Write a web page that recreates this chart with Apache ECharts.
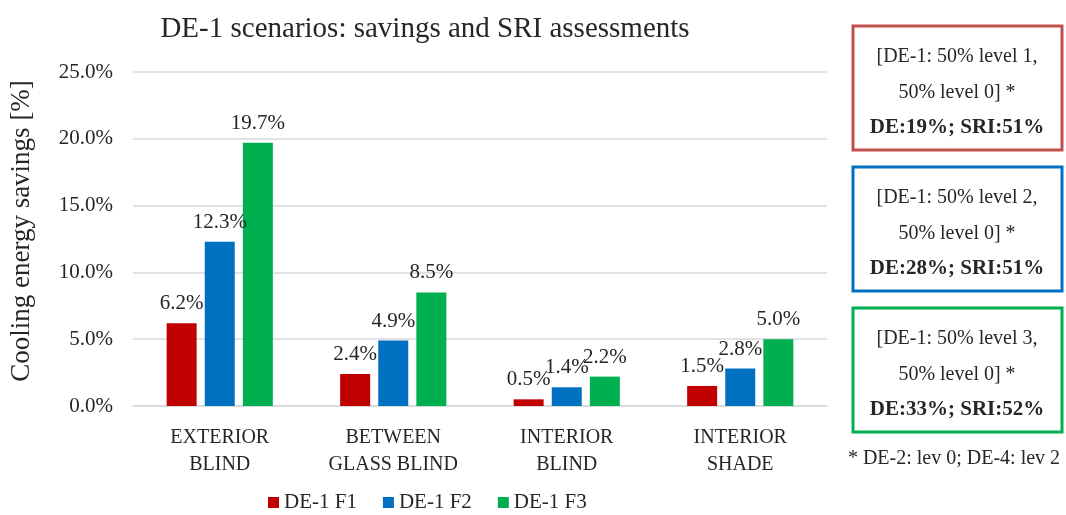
<!DOCTYPE html>
<html>
<head>
<meta charset="utf-8">
<script src="https://cdn.jsdelivr.net/npm/echarts@6/dist/echarts.min.js"></script>
<style>
  html, body { margin: 0; padding: 0; background: #fff; }
  #main { width: 1066px; height: 515px; }
</style>
</head>
<body>
<div id="main"></div>
<script>
// categories and series
var categories = ['EXTERIOR\nBLIND', 'BETWEEN\nGLASS BLIND', 'INTERIOR\nBLIND', 'INTERIOR\nSHADE'];
var f1 = [6.2, 2.4, 0.5, 1.5];
var f2 = [12.3, 4.9, 1.4, 2.8];
var f3 = [19.7, 8.5, 2.2, 5.0];
var seriesNames = ['DE-1 F1', 'DE-1 F2', 'DE-1 F3'];
var colors = ['#c00000', '#0070c0', '#00b050'];

// side boxes
var boxLines = [
  ['[DE-1: 50% level 1,', '50% level 0] *', 'DE:19%; SRI:51%'],
  ['[DE-1: 50% level 2,', '50% level 0] *', 'DE:28%; SRI:51%'],
  ['[DE-1: 50% level 3,', '50% level 0] *', 'DE:33%; SRI:52%']
];
var boxColors = ['#c0504d', '#0070c0', '#00b050'];
var boxTops = [26, 167, 308];
var footnote = '* DE-2: lev 0; DE-4: lev 2';

var serif = '"Liberation Serif", "Times New Roman", serif';
var txt = '#262626';

var chart = echarts.init(document.getElementById('main'));

var graphics = [];
boxLines.forEach(function (lines, i) {
  var top = boxTops[i];
  graphics.push({
    type: 'rect',
    shape: { x: 853, y: top, width: 209, height: 124 },
    style: { fill: '#fff', stroke: boxColors[i], lineWidth: 3 }
  });
  lines.forEach(function (t, j) {
    graphics.push({
      type: 'text',
      x: 957,
      y: top + 31 + j * 35.5,
      style: {
        text: t,
        fill: txt,
        font: j === 2 ? 'bold 21px ' + serif : '20px ' + serif,
        align: 'center',
        verticalAlign: 'middle'
      }
    });
  });
});
graphics.push({
  type: 'text',
  x: 954,
  y: 459,
  style: { text: footnote, fill: txt, font: '20px ' + serif, align: 'center', verticalAlign: 'middle' }
});

var dataSets = [f1, f2, f3];
var series = dataSets.map(function (d, i) {
  return {
    name: seriesNames[i],
    type: 'bar',
    data: d,
    barWidth: 30,
    barGap: '27%',
    itemStyle: { color: colors[i] },
    label: {
      show: true,
      position: 'top',
      distance: 9,
      color: txt,
      fontFamily: serif,
      fontSize: 21,
      formatter: function (p) { return p.value.toFixed(1) + '%'; }
    }
  };
});

chart.setOption({
  animation: false,
  title: {
    text: 'DE-1 scenarios: savings and SRI assessments',
    left: 420,
    top: 10,
    textAlign: 'center',
    textStyle: { fontFamily: serif, fontSize: 29, fontWeight: 'normal', color: txt }
  },
  legend: {
    top: 487,
    left: 263,
    data: seriesNames,
    itemWidth: 11,
    itemHeight: 11,
    itemGap: 26,
    icon: 'rect',
    textStyle: { fontFamily: serif, fontSize: 21, color: txt }
  },
  grid: { left: 133, right: 239, top: 72, bottom: 109 },
  xAxis: {
    type: 'category',
    data: categories,
    axisTick: { show: false },
    axisLine: { lineStyle: { color: '#d9d9d9', width: 1.5 } },
    axisLabel: { fontFamily: serif, fontSize: 20, color: txt, lineHeight: 27, margin: 18 }
  },
  yAxis: {
    type: 'value',
    min: 0,
    max: 25,
    interval: 5,
    name: 'Cooling energy savings [%]',
    nameLocation: 'middle',
    nameGap: 98,
    nameTextStyle: { fontFamily: serif, fontSize: 27, color: txt, padding: [0, 0, 0, 16] },
    axisLine: { show: false },
    axisTick: { show: false },
    splitLine: { lineStyle: { color: '#d9d9d9', width: 1.5 } },
    axisLabel: {
      fontFamily: serif, fontSize: 21, color: txt, margin: 20,
      formatter: function (v) { return v.toFixed(1) + '%'; }
    }
  },
  series: series,
  graphic: graphics
});
</script>
</body>
</html>
